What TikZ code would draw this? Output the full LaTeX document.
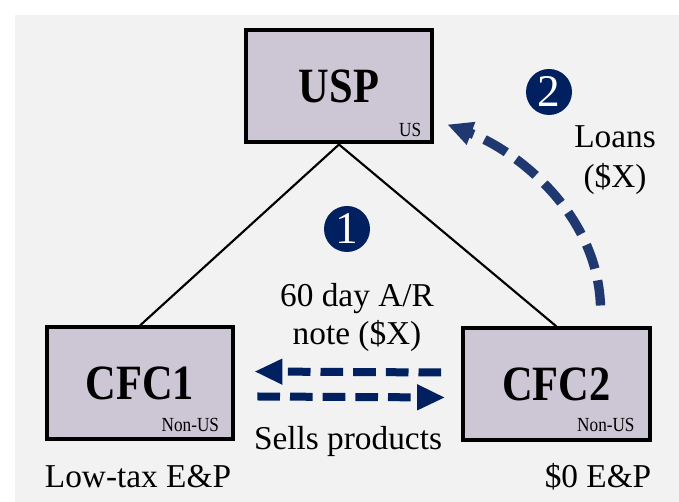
\documentclass[tikz,border=0pt]{standalone}
\usepackage{fontspec}
\setmainfont{Liberation Serif}
\newfontfamily\boxfont{Liberation Serif}[FakeStretch=0.86]
\usetikzlibrary{arrows.meta}
\definecolor{navy}{RGB}{0,32,96}
\definecolor{loanblue}{RGB}{31,56,112}
\definecolor{boxfill}{RGB}{204,198,213}
\definecolor{bggray}{RGB}{242,242,242}
\begin{document}
\begin{tikzpicture}[x=0.75pt, y=0.75pt,
  entity/.style={draw=black, line width=3pt, fill=boxfill, minimum width=140pt,
    minimum height=84pt, inner sep=0pt, font=\boxfont\fontsize{37}{40}\selectfont\bfseries},
  tag/.style={anchor=base east, inner sep=0pt, font=\boxfont\fontsize{15}{17}\selectfont},
  lbl/.style={inner sep=0pt, font=\fontsize{25}{29}\selectfont},
  numdot/.style={circle, fill=navy, text=white, minimum size=34.5pt, inner sep=0pt,
    font=\fontsize{34}{36}\selectfont},
  flow/.style={draw=navy, line width=6pt, dash pattern=on 17pt off 7.5pt,
    -{Triangle[length=21pt,width=18pt]}},
  loan/.style={draw=loanblue, line width=7pt, dash pattern=on 19pt off 9pt,
    -{Triangle[length=19pt,width=17pt]}},
]
\useasboundingbox (0,0) rectangle (679,502);
\fill[bggray] (15,0) rectangle (679,487);
% entities
\node[entity] (usp) at (339,415.5) {USP};
\node[entity] (cfc1) at (140,118.5) {CFC1};
\node[entity] (cfc2) at (556.5,117.5) {CFC2};
\node[tag] (usptag) at ([shift={(-13,8)}]usp.south east) {US};
\node[tag] (cfc1tag) at ([shift={(-16,10)}]cfc1.south east) {Non-US};
\node[tag] (cfc2tag) at ([shift={(-17,11)}]cfc2.south east) {Non-US};
% ownership
\draw[line width=1.6pt] (usp.south) -- (cfc1.north);
\draw[line width=1.6pt] (usp.south) -- (cfc2.north);
% steps
\node[numdot] (one) at (347,273) {1};
\node[numdot] (two) at (549,410) {2};
\node[lbl, align=center, font=\fontsize{25}{28.5}\selectfont] (note) at (357,184.5) {60 day A/R\\note (\$X)};
\node[lbl, anchor=base] (sells) at (348,52) {Sells products};
\node[lbl, align=center, font=\fontsize{25}{30}\selectfont] (loans) at (615,342) {Loans\\(\$X)};
\node[lbl, anchor=base] (lowtax) at (138,14) {Low-tax E\&P};
\node[lbl, anchor=base] (zeroep) at (598,14) {\$0 E\&P};
% flows
\draw[flow] ([shift={(-20,12)}]cfc2.west) -- ([shift={(19,12)}]cfc1.east);
\draw[flow] ([shift={(22,-13)}]cfc1.east) -- ([shift={(-16,-13)}]cfc2.west);
\coordinate (loanstart) at ([shift={(44,21)}]cfc2.north);
\coordinate (loanend) at ([shift={(13,20)}]usp.south east);
\draw[loan] (loanstart) .. controls (597,290) and (515,352) .. (loanend);
\end{tikzpicture}
\end{document}
